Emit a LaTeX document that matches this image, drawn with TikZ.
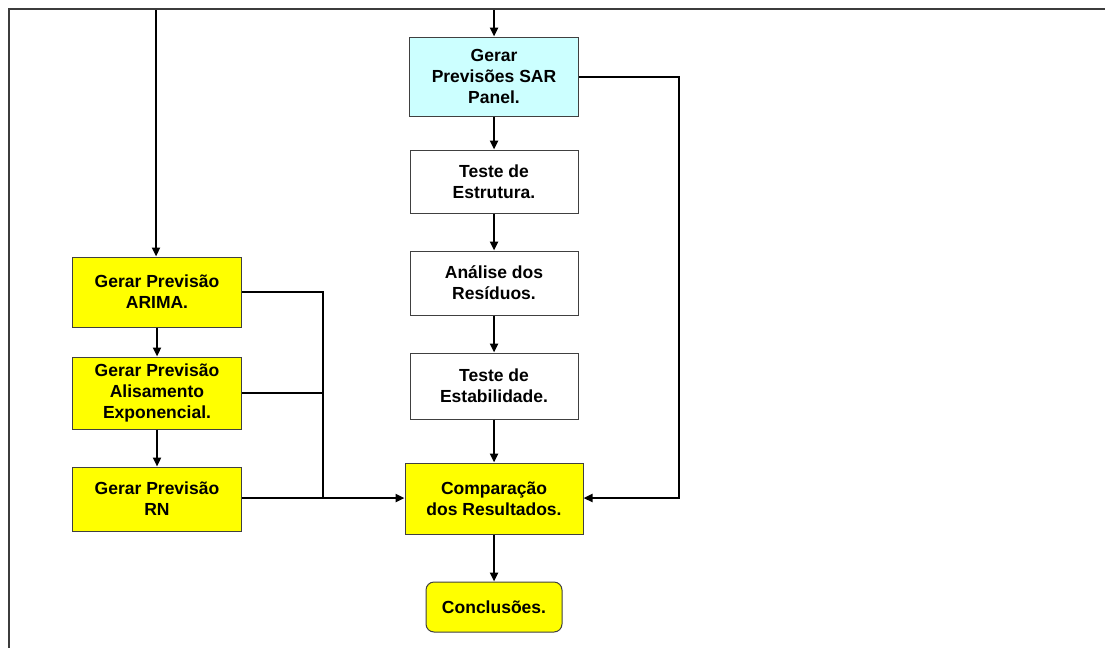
\documentclass[tikz,border=0pt]{standalone}
\usepackage{fontspec}
\setmainfont{Liberation Sans}
\usetikzlibrary{arrows.meta}
\definecolor{boxyellow}{RGB}{255,255,0}
\definecolor{boxcyan}{RGB}{204,255,255}
\definecolor{framegray}{RGB}{60,60,60}
\begin{document}
\begin{tikzpicture}[x=1pt,y=-1pt,
  box/.style={draw=black!75,line width=1pt,fill=white,align=center,
    inner sep=0pt,font=\fontsize{17.5}{21}\selectfont\bfseries},
  ybox/.style={box,fill=boxyellow},
  cbox/.style={box,fill=boxcyan},
  link/.style={line width=2.3pt,-{Triangle[length=9pt,width=8pt]}},
  plain/.style={line width=2.3pt}]
\useasboundingbox (0,0) rectangle (1105,648);
% frame
\draw[framegray,line width=2pt] (1105,9) -- (9,9) -- (9,648);

% right column
\node[cbox,minimum width=169pt,minimum height=79pt] (sar) at (494,76.5) {Gerar\\Previsões SAR\\Panel.};
\node[box,minimum width=168pt,minimum height=63pt] (estr) at (494,181.5) {Teste de\\Estrutura.};
\node[box,minimum width=168pt,minimum height=64pt] (resid) at (494,283) {Análise dos\\Resíduos.};
\node[box,minimum width=168pt,minimum height=66pt] (estab) at (494,386) {Teste de\\Estabilidade.};
\node[ybox,minimum width=178pt,minimum height=71pt] (comp) at (494,498.5) {Comparação\\dos Resultados.};
\node[ybox,rounded corners=8pt,minimum width=136pt,minimum height=50pt] (concl) at (494,607) {Conclusões.};

% left column
\node[ybox,minimum width=169pt,minimum height=70pt] (arima) at (157,292) {Gerar Previsão\\ARIMA.};
\node[ybox,minimum width=169pt,minimum height=72pt] (alis) at (157,393) {Gerar Previsão\\Alisamento\\Exponencial.};
\node[ybox,minimum width=169pt,minimum height=64pt] (rn) at (157,499) {Gerar Previsão\\RN};

% incoming lines from the top edge
\coordinate (topL) at (156,10);
\coordinate (topR) at (494,10);
\draw[link] (topL) -- (topL |- arima.north);
\draw[link] (topR) -- (sar.north);

% vertical chain
\draw[link] (sar) -- (estr);
\draw[link] (estr) -- (resid);
\draw[link] (resid) -- (estab);
\draw[link] (estab) -- (comp);
\draw[link] (comp) -- (concl);
\draw[link] (arima) -- (alis);
\draw[link] (alis) -- (rn);

% merge of the left forecasts
\coordinate (bus) at (323,498);
\draw[plain] (arima.east) -- (arima.east -| bus) -- (bus);
\draw[plain] (alis.east) -- (alis.east -| bus);
\draw[link] (rn.east |- bus) -- (comp.west |- bus);

% SAR panel feedback to comparison
\coordinate (rside) at (679,77);
\draw[link] (sar.east |- rside) -- (rside) -- (rside |- bus) -- (comp.east |- bus);
\end{tikzpicture}
\end{document}
